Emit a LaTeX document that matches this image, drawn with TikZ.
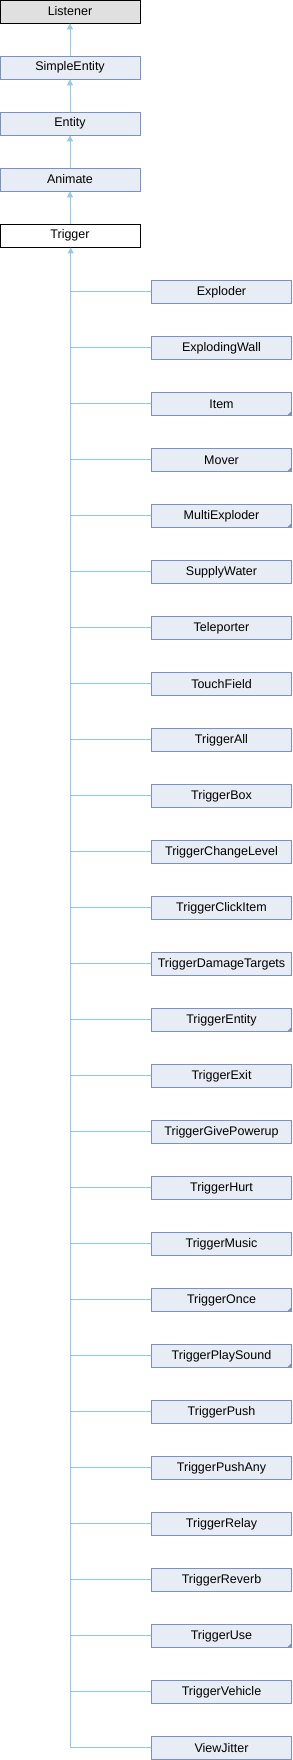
\documentclass[tikz,border=0pt]{standalone}
\usepackage{fontspec}
\setmainfont{Liberation Sans}
\usepackage{tikz}
\usetikzlibrary{arrows.meta,positioning}
\definecolor{Borde}{HTML}{7A90C8}
\definecolor{Relleno}{HTML}{E8ECF5}
\definecolor{Linea}{HTML}{8FC9EB}
\definecolor{GrisBase}{HTML}{E0E0E0}

\begin{document}
\begin{tikzpicture}[
  x=1pt,y=1pt,
  every node/.style={font=\fontsize{12.5}{14}\selectfont},
  clase/.style={draw=Borde,fill=Relleno,minimum width=140pt,minimum height=23pt,inner sep=0pt,line width=0.9pt},
  raiz/.style={clase,draw=black,fill=GrisBase},
  actual/.style={clase,draw=black,fill=white},
  hereda/.style={-{Triangle[length=6pt,width=6pt]},draw=Linea,line width=0.9pt},
  rama/.style={draw=Linea,line width=0.9pt}
]
  \useasboundingbox (0,0) rectangle (292,-1760);

  % Cadena de clases base.
  \node[raiz] (listener) at (70,-11.5) {Listener};
  \node[clase] (simple) at (70,-67.5) {SimpleEntity};
  \node[clase] (entity) at (70,-123.5) {Entity};
  \node[clase] (animate) at (70,-179.5) {Animate};
  \node[actual] (trigger) at (70,-235.5) {Trigger};
  \draw[hereda] (simple) -- (listener);
  \draw[hereda] (entity) -- (simple);
  \draw[hereda] (animate) -- (entity);
  \draw[hereda] (trigger) -- (animate);

  % Clases derivadas de Trigger (1 = tiene mas subclases).
  \foreach \nombre/\mas [count=\i from 0] in {
      Exploder/0, ExplodingWall/0, Item/1, Mover/1, MultiExploder/1,
      SupplyWater/0, Teleporter/0, TouchField/0, TriggerAll/0, TriggerBox/0,
      TriggerChangeLevel/0, TriggerClickItem/0, TriggerDamageTargets/0,
      TriggerEntity/1, TriggerExit/0, TriggerGivePowerup/0, TriggerHurt/0,
      TriggerMusic/0, TriggerOnce/1, TriggerPlaySound/1, TriggerPush/0,
      TriggerPushAny/0, TriggerRelay/0, TriggerReverb/0, TriggerUse/1,
      TriggerVehicle/0, ViewJitter/0} {
    \node[clase] (d\i) at (221.5,-291.8-56*\i) {\nombre};
    \coordinate (c\i) at (70.7,-291.8-56*\i);
    \draw[rama] (c\i) -- (d\i.west);
    \ifnum\mas=1
      \fill[Borde] (d\i.south east) -- ++(-5,0) -- ++(5,5) -- cycle;
    \fi
  }
  \draw[hereda] (c26) -- (trigger.south -| c26);
\end{tikzpicture}
\end{document}
